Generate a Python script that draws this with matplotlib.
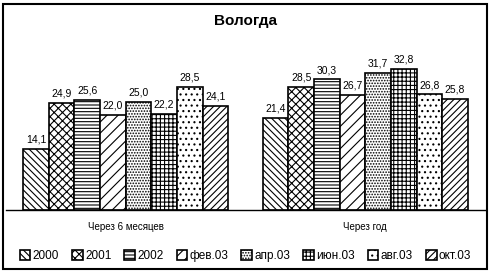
import matplotlib.pyplot as plt
import numpy as np
from matplotlib.patches import Rectangle

plt.rcParams['font.family'] = ['Liberation Sans', 'DejaVu Sans']
plt.rcParams['hatch.linewidth'] = 0.8

categories = ['Через 6 месяцев', 'Через год']
series = ['2000', '2001', '2002', 'фев.03', 'апр.03', 'июн.03', 'авг.03', 'окт.03']
values = [
    [14.1, 21.4],
    [24.9, 28.5],
    [25.6, 30.3],
    [22.0, 26.7],
    [25.0, 31.7],
    [22.2, 32.8],
    [28.5, 26.8],
    [24.1, 25.8],
]
hatches = ['\\\\\\\\\\', 'xxxx', '-----', '///', '......', '++++', '...', '/////']

fig = plt.figure(figsize=(4.9, 2.74), dpi=100)
ax = fig.add_axes([0.012, 0.234, 0.978, 0.64])

x = np.arange(len(categories))
width = 0.107
n = len(series)
for i, (name, vals) in enumerate(zip(series, values)):
    pos = x + (i - (n - 1) / 2) * width
    bars = ax.bar(pos, vals, width, color='white', edgecolor='black',
                  linewidth=1.2, hatch=hatches[i], label=name)
    for b, v in zip(bars, vals):
        ax.text(b.get_x() + b.get_width() / 2, v + 1.0,
                f'{v:.1f}'.replace('.', ','), ha='center', va='bottom',
                fontsize=7.5)

ax.set_xlim(-0.5, 1.5)
ax.set_ylim(0, 40.7)
ax.set_yticks([])
ax.set_xticks(x)
ax.set_xticklabels(categories, fontsize=7)
ax.tick_params(axis='x', length=0, pad=9)
for s in ['top', 'right', 'left']:
    ax.spines[s].set_visible(False)
ax.spines['bottom'].set_linewidth(1.0)

fig.text(0.5, 0.925, 'Вологда', ha='center', va='center',
         fontsize=11, fontweight='bold')

ax.legend(loc='upper center', bbox_to_anchor=(0.5, -0.2), ncol=8,
          frameon=False, fontsize=8.5, handlelength=0.9, handleheight=0.9,
          handletextpad=0.2, columnspacing=1.1, borderaxespad=0)

fig.patches.append(Rectangle((0.006, 0.02), 0.988, 0.965, transform=fig.transFigure,
                             fill=False, edgecolor='black', linewidth=1.5))

fig.savefig('out.png', dpi=100)
